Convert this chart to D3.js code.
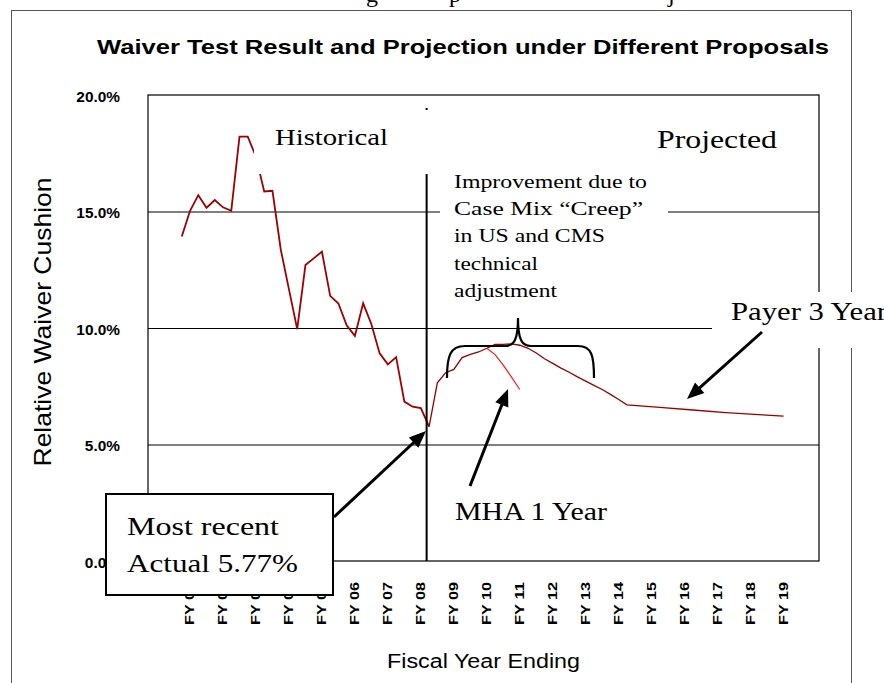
<!DOCTYPE html>
<html>
<head>
<meta charset="utf-8">
<script src="https://cdn.jsdelivr.net/npm/d3@7"></script>
<style>
body { margin: 0; background: #fff; }
</style>
</head>
<body>
<svg width="884" height="683"></svg>
<script>
var svg = d3.select('svg')

// quarter index 0 = first reported quarter; fiscal year labels sit every 4 quarters
var fyLabels = ['FY 01','FY 02','FY 03','FY 04','FY 05','FY 06','FY 07','FY 08','FY 09','FY 10',
	'FY 11','FY 12','FY 13','FY 14','FY 15','FY 16','FY 17','FY 18','FY 19']
var fyQuarters = [1,5,9,13,17,21,25,29,33,37,41,45,49,53,57,61,65,69,73]

// historical relative waiver cushion (%), one value per quarter from quarter 0
var historical = [13.93, 15.03, 15.70, 15.16, 15.49, 15.18, 15.03, 18.21, 18.21, 17.35,
	15.86, 15.89, 13.38, 11.66, 9.95, 12.70, 12.99, 13.28, 11.38, 11.05,
	10.12, 9.66, 11.06, 10.16, 8.91, 8.44, 8.75, 6.84, 6.62, 6.56, 5.77]

// projection under the payer 3 year proposal
var payerQuarters = [30,31,32,33,34,35,36,37,38,39,40,41,42,43,44,45,46,47,48,49,50,51,52,53,54,58,62,66,70,73]
var payerValues = [5.77, 7.65, 8.08, 8.22, 8.73, 8.87, 8.97, 9.13, 9.30, 9.30,
	9.32, 9.26, 9.13, 8.93, 8.68, 8.48, 8.28, 8.10, 7.90, 7.72,
	7.54, 7.36, 7.15, 6.93, 6.70, 6.59, 6.48, 6.37, 6.28, 6.22]

// projection under the MHA 1 year proposal
var mhaQuarters = [37, 38, 39, 40, 41]
var mhaValues = [9.13, 8.86, 8.41, 7.89, 7.36]

var yTicks = [0, 5, 10, 15, 20]
var dividerQuarter = 29.7

var plot = {left: 148, right: 819, top: 95, bottom: 561}

var x = d3.scaleLinear().domain([-4.1, 77.3]).range([plot.left, plot.right])
var y = d3.scaleLinear().domain([0, 20]).range([plot.bottom, plot.top])

var serif = '"Liberation Serif", "Times New Roman", serif'
var sans = '"Liberation Sans", Arial, sans-serif'

//Clipped line of document text above the chart frame
var fragments = [{t: 'g', x: 366}, {t: 'p', x: 449}, {t: 'j', x: 668}]
svg.selectAll('text.frag').data(fragments).enter().append('text')
	.attr('class', 'frag')
	.attr('x', function(d) { return d.x })
	.attr('y', 2)
	.attr('font-family', serif)
	.attr('font-size', 24)
	.text(function(d) { return d.t })

//Outer chart frame
svg.append('rect')
	.attr('x', 11.5).attr('y', 10.5)
	.attr('width', 840).attr('height', 720)
	.attr('fill', 'none').attr('stroke', '#555').attr('stroke-width', 1)

//Title
svg.append('text')
	.attr('x', 97).attr('y', 54)
	.attr('font-family', sans).attr('font-weight', 'bold').attr('font-size', 20.5)
	.attr('textLength', 732).attr('lengthAdjust', 'spacingAndGlyphs')
	.text('Waiver Test Result and Projection under Different Proposals')

//Gridlines
svg.append('g')
	.attr('transform', 'translate(' + plot.left + ',0)')
	.call(d3.axisLeft(y).tickValues(yTicks.slice(1, 4)).tickSize(-(plot.right - plot.left)).tickFormat(''))
	.call(function(g) {
		g.select('.domain').remove()
		g.selectAll('line').attr('stroke', '#000').attr('stroke-width', 1)
	})

//Plot border
svg.append('rect')
	.attr('x', plot.left).attr('y', plot.top)
	.attr('width', plot.right - plot.left).attr('height', plot.bottom - plot.top)
	.attr('fill', 'none').attr('stroke', '#000').attr('stroke-width', 1.2)

//Y tick labels
svg.selectAll('text.ytick').data(yTicks).enter().append('text')
	.attr('class', 'ytick')
	.attr('x', 120)
	.attr('y', function(d) { return y(d) + 2 })
	.attr('dy', '0.35em')
	.attr('text-anchor', 'end')
	.attr('font-family', sans).attr('font-weight', 'bold').attr('font-size', 14)
	.text(function(d) { return d3.format('.1f')(d) + '%' })
	.each(function() {
		d3.select(this).attr('textLength', this.getComputedTextLength() * 1.1)
			.attr('lengthAdjust', 'spacingAndGlyphs')
	})

//X tick labels, rotated
svg.selectAll('text.xtick').data(fyLabels).enter().append('text')
	.attr('class', 'xtick')
	.attr('transform', function(d, i) { return 'translate(' + x(fyQuarters[i]) + ',582) rotate(-90)' })
	.attr('dy', '0.35em')
	.attr('text-anchor', 'end')
	.attr('font-family', sans).attr('font-weight', 'bold').attr('font-size', 12.5)
	.attr('textLength', 43).attr('lengthAdjust', 'spacingAndGlyphs')
	.text(function(d) { return d })

//Axis titles
svg.append('text')
	.attr('transform', 'translate(42.5,322) rotate(-90)')
	.attr('dy', '0.35em')
	.attr('text-anchor', 'middle')
	.attr('font-family', sans).attr('font-size', 24)
	.attr('textLength', 289).attr('lengthAdjust', 'spacingAndGlyphs')
	.text('Relative Waiver Cushion')

svg.append('text')
	.attr('x', 387).attr('y', 668)
	.attr('font-family', sans).attr('font-size', 19.5)
	.attr('textLength', 193).attr('lengthAdjust', 'spacingAndGlyphs')
	.text('Fiscal Year Ending')

//Series lines
var historyLine = d3.line()
	.x(function(d, i) { return x(i) })
	.y(function(d) { return y(d) })

var pairLine = d3.line()
	.x(function(d) { return x(d[0]) })
	.y(function(d) { return y(d[1]) })

svg.append('path')
	.attr('d', historyLine(historical))
	.attr('fill', 'none').attr('stroke', '#a00000').attr('stroke-width', 1.8)
	.attr('stroke-linejoin', 'miter')

svg.append('path')
	.attr('d', pairLine(d3.zip(payerQuarters, payerValues)))
	.attr('fill', 'none').attr('stroke', '#9a0000').attr('stroke-width', 1.3)

svg.append('path')
	.attr('d', pairLine(d3.zip(mhaQuarters, mhaValues)))
	.attr('fill', 'none').attr('stroke', '#ff1a1a').attr('stroke-width', 1.2)

//Historical / projected divider
svg.append('line')
	.attr('x1', x(dividerQuarter)).attr('x2', x(dividerQuarter))
	.attr('y1', 108).attr('y2', plot.bottom)
	.attr('stroke', '#000').attr('stroke-width', 2)

//White text boxes that sit over the chart
var boxes = [
	{x: 254, y: 110, w: 186, h: 64},
	{x: 440, y: 162, w: 228, h: 142},
	{x: 712, y: 292, w: 180, h: 56}
]
svg.selectAll('rect.tbox').data(boxes).enter().append('rect')
	.attr('class', 'tbox')
	.attr('x', function(d) { return d.x }).attr('y', function(d) { return d.y })
	.attr('width', function(d) { return d.w }).attr('height', function(d) { return d.h })
	.attr('fill', '#fff')

var notes = [
	{t: 'Historical', x: 275, y: 145, size: 24, len: 113},
	{t: 'Projected', x: 657, y: 148, size: 25, len: 120},
	{t: 'Improvement due to', x: 454, y: 188, size: 19, len: 193},
	{t: 'Case Mix \u201cCreep\u201d', x: 454, y: 215, size: 19, len: 189},
	{t: 'in US and CMS', x: 454, y: 242, size: 19, len: 151},
	{t: 'technical', x: 454, y: 270, size: 19, len: 84},
	{t: 'adjustment', x: 454, y: 297, size: 19, len: 103},
	{t: 'Payer 3 Year', x: 731, y: 320, size: 25, len: 156},
	{t: 'MHA 1 Year', x: 455, y: 520, size: 25, len: 152}
]

function drawNotes(sel) {
	sel.append('text')
		.attr('x', function(d) { return d.x }).attr('y', function(d) { return d.y })
		.attr('font-family', serif).attr('font-size', function(d) { return d.size })
		.attr('textLength', function(d) { return d.len }).attr('lengthAdjust', 'spacingAndGlyphs')
		.text(function(d) { return d.t })
}
svg.selectAll('g.note').data(notes).enter().append('g').attr('class', 'note').call(drawNotes)

//Curly brace over the projected hump
svg.append('path')
	.attr('d', 'M447,378 C447,356 450,346 465,346 L505,346 C514,346 518,340 518,318 C518,340 522,346 531,346 L578,346 C592,346 594,356 594,378')
	.attr('fill', 'none').attr('stroke', '#000').attr('stroke-width', 2.2)

//Arrows
var arrows = [
	{x1: 334, y1: 517, x2: 426, y2: 431},
	{x1: 470, y1: 486, x2: 508, y2: 389},
	{x1: 762, y1: 332, x2: 687, y2: 399}
]
arrows.forEach(function(a) {
	var dx = a.x2 - a.x1, dy = a.y2 - a.y1
	var len = Math.sqrt(dx * dx + dy * dy)
	var ux = dx / len, uy = dy / len
	var headLen = 17, headW = 7
	var bx = a.x2 - ux * headLen, by = a.y2 - uy * headLen
	svg.append('line')
		.attr('x1', a.x1).attr('y1', a.y1)
		.attr('x2', bx + ux * 2).attr('y2', by + uy * 2)
		.attr('stroke', '#000').attr('stroke-width', 3)
	svg.append('path')
		.attr('d', 'M' + a.x2 + ',' + a.y2 +
			' L' + (bx - uy * headW) + ',' + (by + ux * headW) +
			' L' + (bx + uy * headW) + ',' + (by - ux * headW) + ' Z')
		.attr('fill', '#000')
})

//Most recent actual callout box
svg.append('rect')
	.attr('x', 106).attr('y', 494)
	.attr('width', 227).attr('height', 101)
	.attr('fill', '#fff').attr('stroke', '#000').attr('stroke-width', 2)

var recent = [
	{t: 'Most recent', x: 127, y: 535, size: 26, len: 152},
	{t: 'Actual 5.77%', x: 127, y: 572, size: 26, len: 171}
]
svg.selectAll('g.recent').data(recent).enter().append('g').attr('class', 'recent').call(drawNotes)
</script>
</body>
</html>
